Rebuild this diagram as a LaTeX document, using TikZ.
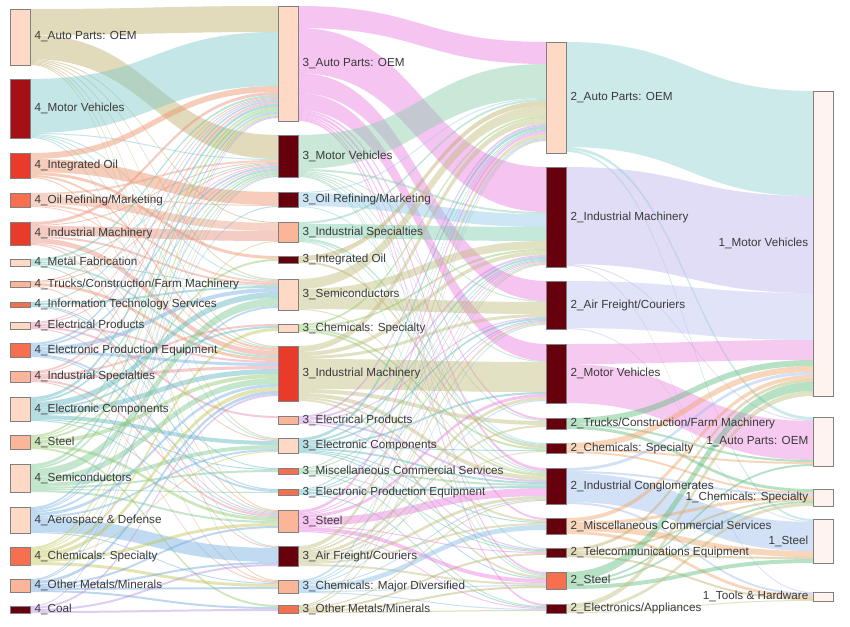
\documentclass[tikz,border=0pt]{standalone}
\usepackage{fontspec}
\setmainfont{Liberation Sans}
\usetikzlibrary{calc,backgrounds}
% link colours
\definecolor{cTan}{HTML}{BDAD69}
\definecolor{cTeal}{HTML}{7DC9C9}
\definecolor{cSalmon}{HTML}{ED9169}
\definecolor{cPeach}{HTML}{EE9E80}
\definecolor{cPeach2}{HTML}{E8907A}
\definecolor{cTealG}{HTML}{6CC4B0}
\definecolor{cTeal2}{HTML}{5FB8C0}
\definecolor{cPink}{HTML}{E88AA8}
\definecolor{cBlue}{HTML}{75B1E1}
\definecolor{cRose}{HTML}{EC8C8C}
\definecolor{cGreenY}{HTML}{91C969}
\definecolor{cGreen}{HTML}{7CC890}
\definecolor{cYG}{HTML}{C1C555}
\definecolor{cBlue2}{HTML}{6FA8DC}
\definecolor{cLav}{HTML}{B991E1}
\definecolor{cPinkM}{HTML}{EB7DE1}
\definecolor{cGreen3}{HTML}{89CDA9}
\definecolor{cLBlue}{HTML}{91C9E9}
\definecolor{cGTeal}{HTML}{7DCDAD}
\definecolor{cKhaki}{HTML}{C1BD7D}
\definecolor{cLavP}{HTML}{C58BE0}
\definecolor{cLBlue2}{HTML}{85BDE8}
\definecolor{cTealA}{HTML}{91D1D1}
\definecolor{cLavA}{HTML}{BDB5ED}
\definecolor{cLavB}{HTML}{BDC1F1}
\definecolor{cPinkB}{HTML}{ED89E1}
\definecolor{cGreenS}{HTML}{61BD7D}
\definecolor{cOrange}{HTML}{F1A569}
\definecolor{cBlueS}{HTML}{9DBDED}
% node fills
\definecolor{fPale}{HTML}{FDD9C6}
\definecolor{fLight}{HTML}{FBB599}
\definecolor{fMed}{HTML}{F6704F}
\definecolor{fRed}{HTML}{EA3A2A}
\definecolor{fDark}{HTML}{A50F15}
\definecolor{fDeep}{HTML}{67000D}
\definecolor{fWhite}{HTML}{FFF3EE}
\definecolor{labc}{HTML}{3A3A3A}
\definecolor{bordc}{HTML}{808080}

\tikzset{
  nbox/.style={draw=bordc,line width=0.8pt,minimum width=20pt,inner sep=0pt,outer sep=0pt},
  lab/.style={font=\fontsize{11.7}{14}\selectfont,text=labc,inner sep=0pt},
  lk/.style={fill opacity=0.45}
}

\newcommand\ndr[6]{%
  \node[nbox,fill=#5,minimum height=#4pt,anchor=north west,label={[lab,name=#1l,xshift=4.5pt]right:#6}] (#1) at (#2,#3) {};
  \expandafter\gdef\csname o@#1\endcsname{0}%
  \expandafter\gdef\csname i@#1\endcsname{0}}
\newcommand\ndl[6]{%
  \node[nbox,fill=#5,minimum height=#4pt,anchor=north west,label={[lab,name=#1l,xshift=-4.5pt]left:#6}] (#1) at (#2,#3) {};
  \expandafter\gdef\csname o@#1\endcsname{0}%
  \expandafter\gdef\csname i@#1\endcsname{0}}

\newcommand\band[4]{%
  \edef\bOa{\csname o@#1\endcsname}%
  \edef\bIb{\csname i@#2\endcsname}%
  \fill[lk,#4] let \p1=($(#1.north east)+(0,\bOa)$), \p2=($(#2.north west)+(0,\bIb)$), \p3=($(\p1)!0.5!(\p2)$) in
    (\p1) .. controls (\x3,\y1) and (\x3,\y2) .. (\p2)
    -- (\x2,{\y2-#3pt}) .. controls (\x3,{\y2-#3pt}) and (\x3,{\y1-#3pt}) .. (\x1,{\y1-#3pt}) -- cycle;
  \pgfmathsetmacro\bT{\bOa+#3}\expandafter\xdef\csname o@#1\endcsname{\bT}%
  \pgfmathsetmacro\bT{\bIb+#3}\expandafter\xdef\csname i@#2\endcsname{\bT}%
}
\newcommand\flows[3]{\foreach \tgt/\wid in {#3}{\band{#1}{\tgt}{\wid}{#2}}}

\begin{document}
\begin{tikzpicture}[x=1pt,y=-1pt]
\useasboundingbox (0,0) rectangle (850,626);
% column 4
\ndr{n4ap}{10}{9}{56}{fPale}{4\_Auto Parts: OEM}
\ndr{n4mv}{10}{79}{59}{fDark}{4\_Motor Vehicles}
\ndr{n4io}{10}{153}{25}{fRed}{4\_Integrated Oil}
\ndr{n4or}{10}{193}{14}{fMed}{4\_Oil Refining/Marketing}
\ndr{n4im}{10}{222}{23}{fRed}{4\_Industrial Machinery}
\ndr{n4mf}{10}{259}{7}{fPale}{4\_Metal Fabrication}
\ndr{n4tr}{10}{281}{6}{fLight}{4\_Trucks/Construction/Farm Machinery}
\ndr{n4it}{10}{302}{5}{fMed}{4\_Information Technology Services}
\ndr{n4ep}{10}{322}{7}{fPale}{4\_Electrical Products}
\ndr{n4epe}{10}{343}{14}{fMed}{4\_Electronic Production Equipment}
\ndr{n4is}{10}{371}{11}{fLight}{4\_Industrial Specialties}
\ndr{n4ec}{10}{397}{24}{fPale}{4\_Electronic Components}
\ndr{n4st}{10}{435}{14}{fLight}{4\_Steel}
\ndr{n4se}{10}{464}{28}{fPale}{4\_Semiconductors}
\ndr{n4ad}{10}{507}{26}{fPale}{4\_Aerospace \& Defense}
\ndr{n4cs}{10}{547}{18}{fMed}{4\_Chemicals: Specialty}
\ndr{n4om}{10}{579}{13}{fLight}{4\_Other Metals/Minerals}
\ndr{n4co}{10}{606}{7}{fDeep}{4\_Coal}
% column 3
\ndr{n3ap}{278}{6}{115}{fPale}{3\_Auto Parts: OEM}
\ndr{n3mv}{278}{135}{42}{fDeep}{3\_Motor Vehicles}
\ndr{n3or}{278}{192}{15}{fDeep}{3\_Oil Refining/Marketing}
\ndr{n3is}{278}{222}{20}{fLight}{3\_Industrial Specialties}
\ndr{n3io}{278}{256}{7}{fDeep}{3\_Integrated Oil}
\ndr{n3se}{278}{279}{31}{fPale}{3\_Semiconductors}
\ndr{n3cs}{278}{324}{8}{fPale}{3\_Chemicals: Specialty}
\ndr{n3im}{278}{346}{55}{fRed}{3\_Industrial Machinery}
\ndr{n3ep}{278}{416}{8}{fLight}{3\_Electrical Products}
\ndr{n3ec}{278}{438}{15}{fPale}{3\_Electronic Components}
\ndr{n3mc}{278}{468}{6}{fMed}{3\_Miscellaneous Commercial Services}
\ndr{n3epe}{278}{489}{6}{fMed}{3\_Electronic Production Equipment}
\ndr{n3st}{278}{510}{22}{fLight}{3\_Steel}
\ndr{n3af}{278}{546}{20}{fDeep}{3\_Air Freight/Couriers}
\ndr{n3cm}{278}{580}{13}{fLight}{3\_Chemicals: Major Diversified}
\ndr{n3om}{278}{605}{8}{fMed}{3\_Other Metals/Minerals}
% column 2
\ndr{n2ap}{546}{42}{111}{fPale}{2\_Auto Parts: OEM}
\ndr{n2im}{546}{167}{100}{fDeep}{2\_Industrial Machinery}
\ndr{n2af}{546}{281}{48}{fDeep}{2\_Air Freight/Couriers}
\ndr{n2mv}{546}{344}{59}{fDeep}{2\_Motor Vehicles}
\ndr{n2tr}{546}{418}{11}{fDeep}{2\_Trucks/Construction/Farm Machinery}
\ndr{n2cs}{546}{443}{10}{fDeep}{2\_Chemicals: Specialty}
\ndr{n2ic}{546}{468}{36}{fDeep}{2\_Industrial Conglomerates}
\ndr{n2mc}{546}{518}{16}{fDeep}{2\_Miscellaneous Commercial Services}
\ndr{n2te}{546}{548}{9}{fDeep}{2\_Telecommunications Equipment}
\ndr{n2st}{546}{572}{17}{fMed}{2\_Steel}
\ndr{n2ea}{546}{604}{9}{fDeep}{2\_Electronics/Appliances}
% column 1
\ndl{n1mv}{813}{91}{305}{fWhite}{1\_Motor Vehicles}
\ndl{n1ap}{813}{417}{49}{fWhite}{1\_Auto Parts: OEM}
\ndl{n1cs}{813}{489}{17}{fWhite}{1\_Chemicals: Specialty}
\ndl{n1st}{813}{519}{44}{fWhite}{1\_Steel}
\ndl{n1th}{813}{592}{9}{fWhite}{1\_Tools \& Hardware}

\begin{pgfonlayer}{background}
\fill[white] (0,0) rectangle (850,626);
% column 4 -> column 3
\flows{n4ap}{cTan}{n3ap/26,n3mv/24,n3is/1,n3se/1,n3im/1,n3ec/1,n3st/1,n3cm/1}
\flows{n4mv}{cTeal}{n3ap/54,n3mv/1,n3se/1,n3im/1,n3ec/1,n3af/1}
\flows{n4io}{cSalmon}{n3ap/6,n3or/13,n3io/3,n3im/2,n3st/1}
\flows{n4or}{cPeach}{n3mv/2,n3or/1,n3is/8,n3se/2,n3im/1}
\flows{n4im}{cPeach2}{n3ap/3,n3mv/1,n3is/10,n3se/2,n3im/5,n3ec/1,n3af/1}
\flows{n4mf}{cTealG}{n3ap/2,n3mv/1,n3se/1,n3im/2,n3st/1}
\flows{n4tr}{cSalmon}{n3ap/1,n3mv/1,n3im/3,n3cm/1}
\flows{n4it}{cTeal2}{n3ap/1,n3se/2,n3mc/1,n3epe/1}
\flows{n4ep}{cPink}{n3ap/1,n3mv/1,n3im/2,n3ep/2,n3st/1}
\flows{n4epe}{cBlue}{n3ap/2,n3mv/2,n3se/4,n3im/3,n3epe/2,n3st/1}
\flows{n4is}{cRose}{n3ap/2,n3mv/1,n3cs/2,n3im/3,n3st/2,n3cm/1}
\flows{n4ec}{cTeal2}{n3ap/3,n3mv/2,n3se/6,n3cs/2,n3im/5,n3ec/4,n3mc/1,n3st/1}
\flows{n4st}{cGreenY}{n3ap/2,n3mv/1,n3io/2,n3im/4,n3st/3,n3om/2}
\flows{n4se}{cGreen}{n3ap/3,n3mv/2,n3se/8,n3im/6,n3ec/4,n3mc/2,n3epe/1,n3st/2}
\flows{n4ad}{cBlue}{n3ap/2,n3mv/1,n3or/1,n3se/2,n3im/3,n3ec/2,n3af/14,n3cm/1}
\flows{n4cs}{cYG}{n3ap/2,n3mv/1,n3is/1,n3cs/3,n3im/4,n3ec/1,n3st/3,n3cm/3}
\flows{n4om}{cBlue2}{n3ap/1,n3mv/1,n3im/3,n3st/2,n3af/2,n3cm/2,n3om/2}
\flows{n4co}{cLav}{n3ap/1,n3im/2,n3af/2,n3om/2}
% column 3 -> column 2
\flows{n3ap}{cPinkM}{n2ap/22,n2im/45,n2af/20,n2mv/17,n2tr/2,n2ic/3,n2mc/2,n2st/2,n2ea/2}
\flows{n3mv}{cGreen3}{n2ap/34,n2im/2,n2af/1,n2mv/1,n2tr/1,n2ic/1,n2te/1,n2st/1}
\flows{n3or}{cLBlue}{n2ap/1,n2im/13,n2cs/1}
\flows{n3is}{cGTeal}{n2ap/2,n2im/14,n2cs/2,n2ic/1,n2st/1}
\flows{n3io}{cTan}{n2ap/5,n2cs/2}
\flows{n3se}{cKhaki}{n2ap/10,n2im/8,n2af/12,n2ic/1}
\flows{n3cs}{cGreenY}{n2ap/2,n2im/2,n2cs/2,n2ic/2}
\flows{n3im}{cKhaki}{n2ap/6,n2im/4,n2af/3,n2mv/30,n2tr/4,n2ic/4,n2mc/2,n2st/2}
\flows{n3ep}{cLavP}{n2ap/2,n2im/2,n2af/1,n2ic/2,n2te/1}
\flows{n3ec}{cTeal2}{n2ap/3,n2im/2,n2af/2,n2mv/2,n2cs/1,n2ic/2,n2mc/1,n2te/1,n2st/1}
\flows{n3mc}{cGreen}{n2ap/1,n2im/1,n2ic/2,n2te/1,n2ea/1}
\flows{n3epe}{cTeal2}{n2ap/1,n2im/1,n2af/1,n2ic/2,n2ea/1}
\flows{n3st}{cPinkM}{n2ap/3,n2im/1,n2af/1,n2mv/3,n2ic/8,n2te/1,n2st/4,n2ea/1}
\flows{n3af}{cKhaki}{n2ap/4,n2im/1,n2af/2,n2mv/3,n2tr/2,n2cs/1,n2ic/3,n2mc/2,n2st/2}
\flows{n3cm}{cLBlue2}{n2ap/2,n2im/1,n2af/1,n2mv/1,n2ic/1,n2mc/5,n2st/1,n2ea/1}
\flows{n3om}{cTan}{n2ap/1,n2im/1,n2ic/1,n2te/2,n2st/2,n2ea/1}
% column 2 -> column 1
\flows{n2ap}{cTealA}{n1mv/105,n1ap/3,n1st/2}
\flows{n2im}{cLavA}{n1mv/97,n1ap/1,n1th/1}
\flows{n2af}{cLavB}{n1mv/47,n1st/1}
\flows{n2mv}{cPinkB}{n1mv/20,n1ap/39}
\flows{n2tr}{cGreenS}{n1mv/6,n1ap/2,n1cs/3}
\flows{n2cs}{cOrange}{n1mv/6,n1ap/2,n1cs/2}
\flows{n2ic}{cBlueS}{n1mv/3,n1cs/2,n1st/29,n1th/2}
\flows{n2mc}{cOrange}{n1mv/4,n1cs/3,n1st/6,n1th/3}
\flows{n2te}{cTan}{n1mv/3,n1cs/2,n1st/2,n1th/2}
\flows{n2st}{cGreenS}{n1mv/9,n1ap/2,n1cs/2,n1st/4}
\flows{n2ea}{cKhaki}{n1mv/5,n1cs/3,n1th/1}
\end{pgfonlayer}
\end{tikzpicture}
\end{document}
